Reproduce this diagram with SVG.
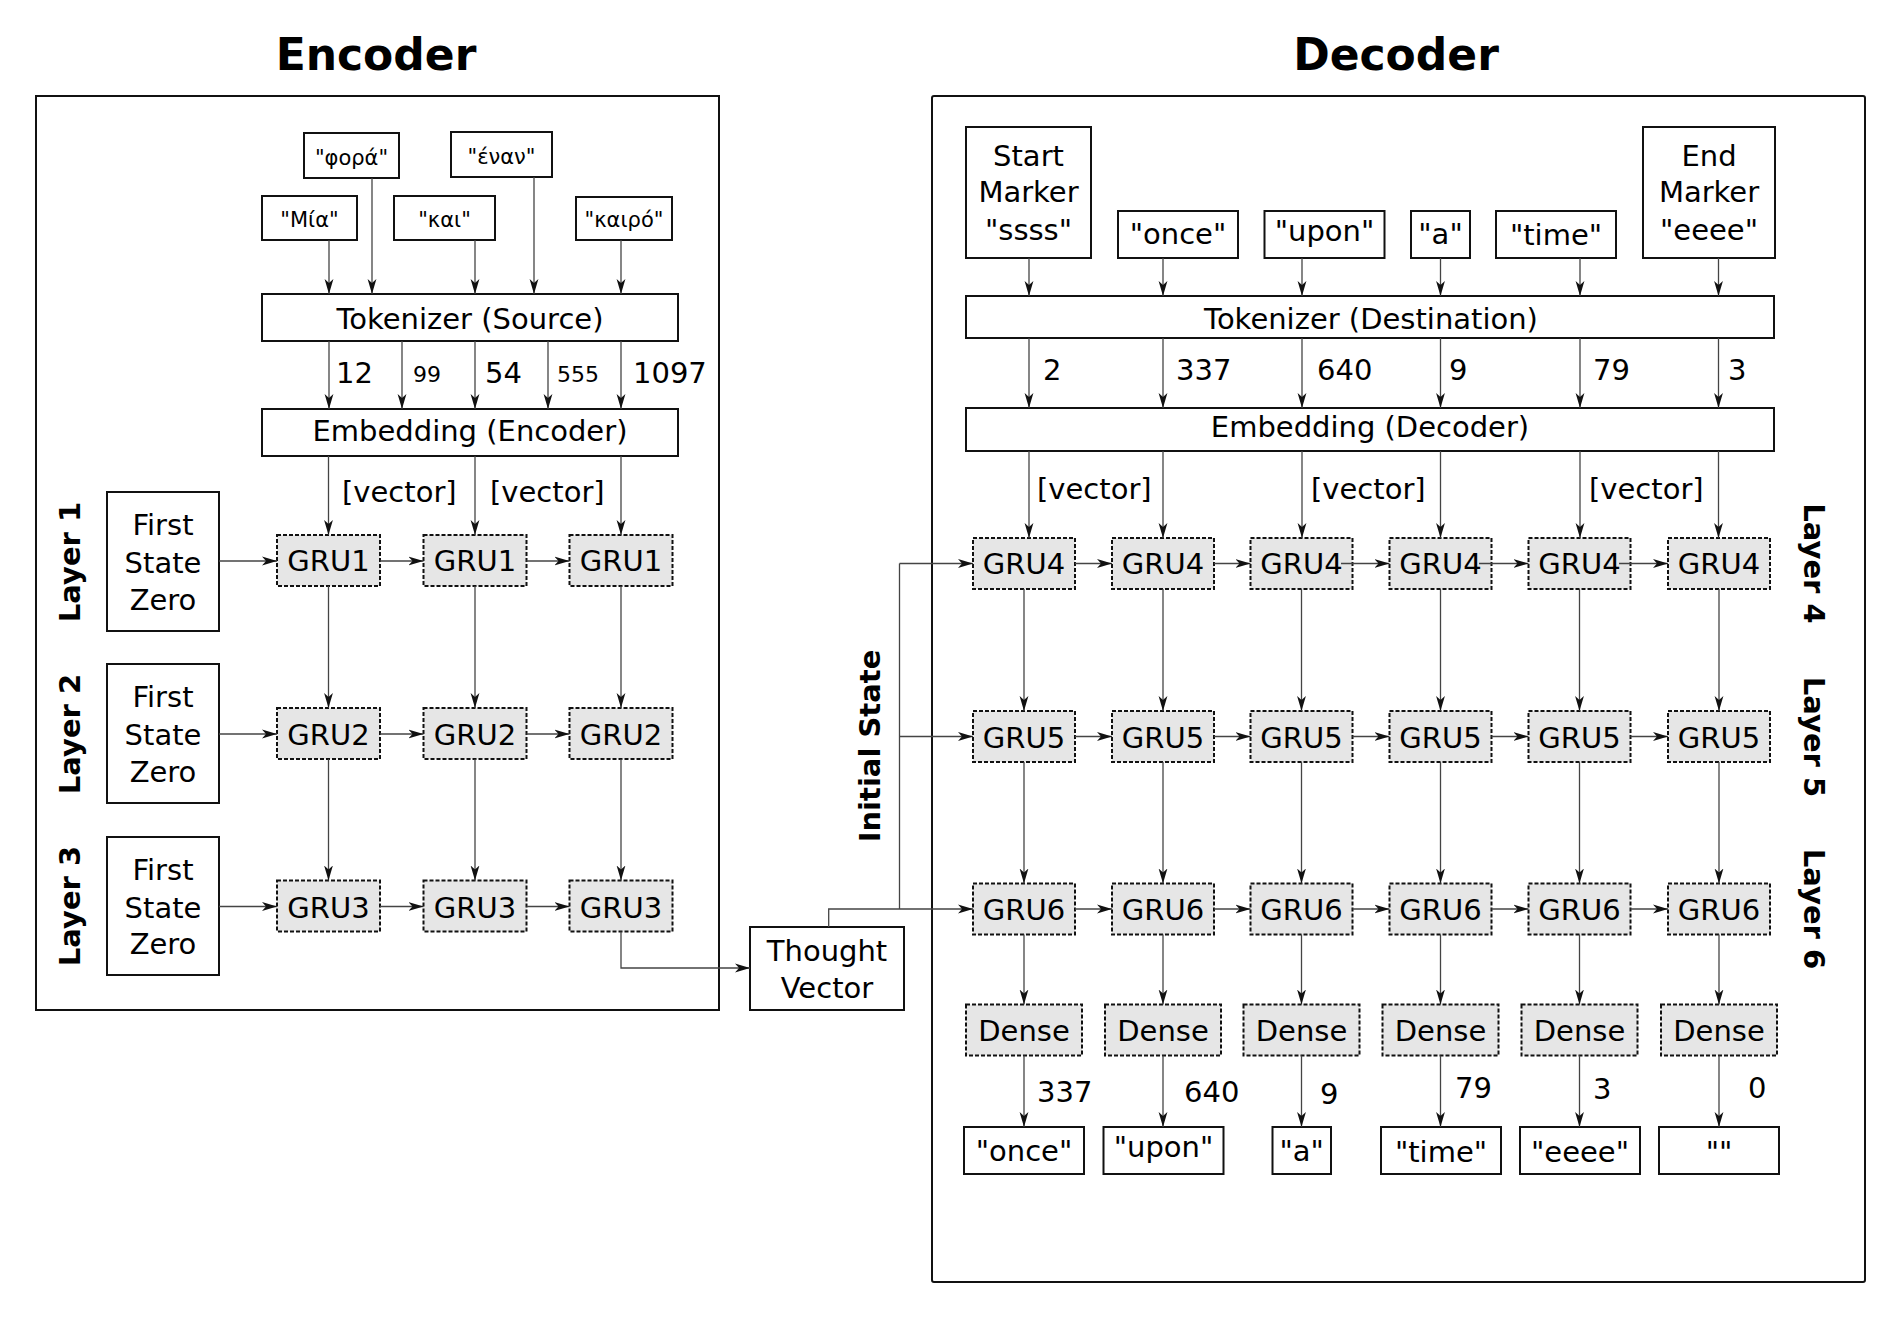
<svg xmlns="http://www.w3.org/2000/svg" width="1902" height="1319" viewBox="0 0 1902 1319">
<style>
text{font-family:"DejaVu Sans","Liberation Sans",sans-serif;fill:#000}
.t{font-size:29px;text-anchor:middle}
.n{font-size:29px}
.sn{font-size:22px}
.g{font-size:21px;text-anchor:middle}
.b{font-size:29px;font-weight:bold;text-anchor:middle}
.title{font-size:44px;font-weight:bold;text-anchor:middle}
.box{fill:#fff;stroke:#111;stroke-width:2}
.cont{fill:none;stroke:#111;stroke-width:2}
.gru{fill:#e6e6e6;stroke:#111;stroke-width:2;stroke-dasharray:4 2}
#connectors path{fill:none;stroke:#444;stroke-width:1.3}
#connectors .a{marker-end:url(#ah)}
</style>
<defs>
<marker id="ah" viewBox="0 0 16 10" refX="15" refY="5" markerWidth="16" markerHeight="10" markerUnits="userSpaceOnUse" orient="auto">
<path d="M15,5 L0,0.6 L4,5 L0,9.4 Z" fill="#111"/>
</marker>
</defs>
<rect width="1902" height="1319" fill="#fff"/>

<g id="titles">
<text class="title" x="376" y="70">Encoder</text>
<text class="title" x="1396" y="70">Decoder</text>
</g>

<g id="containers">
<rect id="encoder" class="cont" x="36" y="96" width="683" height="914"/>
<rect id="decoder" class="cont" x="932" y="96" width="933" height="1186" rx="2"/>
</g>

<g id="labels">
<text class="b" x="80" y="562" transform="rotate(-90 80 562)">Layer 1</text>
<text class="b" x="80" y="734" transform="rotate(-90 80 734)">Layer 2</text>
<text class="b" x="80" y="906" transform="rotate(-90 80 906)">Layer 3</text>
<text class="b" x="880" y="746" transform="rotate(-90 880 746)">Initial State</text>
<text class="b" x="1804" y="563.5" transform="rotate(90 1804 563.5)">Layer 4</text>
<text class="b" x="1804" y="737" transform="rotate(90 1804 737)">Layer 5</text>
<text class="b" x="1804" y="909" transform="rotate(90 1804 909)">Layer 6</text>
</g>

<!-- Encoder nodes -->
<g id="src-fora"><rect class="box" x="304" y="133" width="95" height="45"/><text class="g" x="351.5" y="165">"φορά"</text></g>
<g id="src-enan"><rect class="box" x="451" y="132" width="101" height="45"/><text class="g" x="501.5" y="163.5">"έναν"</text></g>
<g id="src-mia"><rect class="box" x="262" y="196" width="95" height="44"/><text class="g" x="309.5" y="227">"Μία"</text></g>
<g id="src-kai"><rect class="box" x="394" y="196" width="101" height="44"/><text class="g" x="444.5" y="227">"και"</text></g>
<g id="src-kairo"><rect class="box" x="576" y="197" width="96" height="43"/><text class="g" x="624" y="227">"καιρό"</text></g>
<g id="tok-src"><rect class="box" x="262" y="294" width="416" height="47"/><text class="t" x="470" y="329">Tokenizer (Source)</text></g>
<g id="emb-enc"><rect class="box" x="262" y="409" width="416" height="47"/><text class="t" x="470" y="440.5">Embedding (Encoder)</text></g>

<g id="fsz1"><rect class="box" x="107" y="492" width="112" height="139"/><text class="t" x="163" y="535">First</text><text class="t" x="163" y="573">State</text><text class="t" x="163" y="609.5">Zero</text></g>
<g id="fsz2"><rect class="box" x="107" y="664" width="112" height="139"/><text class="t" x="163" y="707">First</text><text class="t" x="163" y="745">State</text><text class="t" x="163" y="781.5">Zero</text></g>
<g id="fsz3"><rect class="box" x="107" y="837" width="112" height="138"/><text class="t" x="163" y="879.5">First</text><text class="t" x="163" y="917.5">State</text><text class="t" x="163" y="954">Zero</text></g>

<g id="gru1-1"><rect class="gru" x="277" y="535" width="103" height="51"/><text class="t" x="328.5" y="571">GRU1</text></g>
<g id="gru1-2"><rect class="gru" x="423.5" y="535" width="103" height="51"/><text class="t" x="475" y="571">GRU1</text></g>
<g id="gru1-3"><rect class="gru" x="569.5" y="535" width="103" height="51"/><text class="t" x="621" y="571">GRU1</text></g>
<g id="gru2-1"><rect class="gru" x="277" y="708" width="103" height="51"/><text class="t" x="328.5" y="744.5">GRU2</text></g>
<g id="gru2-2"><rect class="gru" x="423.5" y="708" width="103" height="51"/><text class="t" x="475" y="744.5">GRU2</text></g>
<g id="gru2-3"><rect class="gru" x="569.5" y="708" width="103" height="51"/><text class="t" x="621" y="744.5">GRU2</text></g>
<g id="gru3-1"><rect class="gru" x="277" y="880.5" width="103" height="51"/><text class="t" x="328.5" y="917.5">GRU3</text></g>
<g id="gru3-2"><rect class="gru" x="423.5" y="880.5" width="103" height="51"/><text class="t" x="475" y="917.5">GRU3</text></g>
<g id="gru3-3"><rect class="gru" x="569.5" y="880.5" width="103" height="51"/><text class="t" x="621" y="917.5">GRU3</text></g>

<g id="thought"><rect class="box" x="750" y="927" width="154" height="83"/><text class="t" x="827" y="960.5">Thought</text><text class="t" x="827" y="998">Vector</text></g>

<!-- Decoder nodes -->
<g id="dst-start"><rect class="box" x="966" y="127" width="125" height="131"/><text class="t" x="1028.5" y="165.5">Start</text><text class="t" x="1028.5" y="202">Marker</text><text class="t" x="1028.5" y="239.5">"ssss"</text></g>
<g id="dst-once"><rect class="box" x="1118" y="211" width="120" height="47"/><text class="t" x="1178" y="243.5">"once"</text></g>
<g id="dst-upon"><rect class="box" x="1264.5" y="211" width="120" height="47"/><text class="t" x="1324.5" y="240.5">"upon"</text></g>
<g id="dst-a"><rect class="box" x="1411" y="211" width="59" height="47"/><text class="t" x="1440.5" y="243.5">"a"</text></g>
<g id="dst-time"><rect class="box" x="1496" y="211" width="120" height="47"/><text class="t" x="1556" y="244.5">"time"</text></g>
<g id="dst-end"><rect class="box" x="1643" y="127" width="132" height="131"/><text class="t" x="1709" y="165.5">End</text><text class="t" x="1709" y="202">Marker</text><text class="t" x="1709" y="239.5">"eeee"</text></g>
<g id="tok-dst"><rect class="box" x="966" y="296" width="808" height="42"/><text class="t" x="1371" y="329">Tokenizer (Destination)</text></g>
<g id="emb-dec"><rect class="box" x="966" y="408" width="808" height="43"/><text class="t" x="1370" y="437">Embedding (Decoder)</text></g>

<g id="gru4-1"><rect class="gru" x="973" y="538" width="102" height="51"/><text class="t" x="1024" y="574">GRU4</text></g>
<g id="gru4-2"><rect class="gru" x="1112" y="538" width="102" height="51"/><text class="t" x="1163" y="574">GRU4</text></g>
<g id="gru4-3"><rect class="gru" x="1250.5" y="538" width="102" height="51"/><text class="t" x="1301.5" y="574">GRU4</text></g>
<g id="gru4-4"><rect class="gru" x="1389.5" y="538" width="102" height="51"/><text class="t" x="1440.5" y="574">GRU4</text></g>
<g id="gru4-5"><rect class="gru" x="1528.5" y="538" width="102" height="51"/><text class="t" x="1579.5" y="574">GRU4</text></g>
<g id="gru4-6"><rect class="gru" x="1668" y="538" width="102" height="51"/><text class="t" x="1719" y="574">GRU4</text></g>

<g id="gru5-1"><rect class="gru" x="973" y="711" width="102" height="51"/><text class="t" x="1024" y="747.5">GRU5</text></g>
<g id="gru5-2"><rect class="gru" x="1112" y="711" width="102" height="51"/><text class="t" x="1163" y="747.5">GRU5</text></g>
<g id="gru5-3"><rect class="gru" x="1250.5" y="711" width="102" height="51"/><text class="t" x="1301.5" y="747.5">GRU5</text></g>
<g id="gru5-4"><rect class="gru" x="1389.5" y="711" width="102" height="51"/><text class="t" x="1440.5" y="747.5">GRU5</text></g>
<g id="gru5-5"><rect class="gru" x="1528.5" y="711" width="102" height="51"/><text class="t" x="1579.5" y="747.5">GRU5</text></g>
<g id="gru5-6"><rect class="gru" x="1668" y="711" width="102" height="51"/><text class="t" x="1719" y="747.5">GRU5</text></g>

<g id="gru6-1"><rect class="gru" x="973" y="883.5" width="102" height="51"/><text class="t" x="1024" y="920">GRU6</text></g>
<g id="gru6-2"><rect class="gru" x="1112" y="883.5" width="102" height="51"/><text class="t" x="1163" y="920">GRU6</text></g>
<g id="gru6-3"><rect class="gru" x="1250.5" y="883.5" width="102" height="51"/><text class="t" x="1301.5" y="920">GRU6</text></g>
<g id="gru6-4"><rect class="gru" x="1389.5" y="883.5" width="102" height="51"/><text class="t" x="1440.5" y="920">GRU6</text></g>
<g id="gru6-5"><rect class="gru" x="1528.5" y="883.5" width="102" height="51"/><text class="t" x="1579.5" y="920">GRU6</text></g>
<g id="gru6-6"><rect class="gru" x="1668" y="883.5" width="102" height="51"/><text class="t" x="1719" y="920">GRU6</text></g>

<g id="dense-1"><rect class="gru" x="966" y="1004.5" width="116" height="51"/><text class="t" x="1024" y="1041">Dense</text></g>
<g id="dense-2"><rect class="gru" x="1105" y="1004.5" width="116" height="51"/><text class="t" x="1163" y="1041">Dense</text></g>
<g id="dense-3"><rect class="gru" x="1243.5" y="1004.5" width="116" height="51"/><text class="t" x="1301.5" y="1041">Dense</text></g>
<g id="dense-4"><rect class="gru" x="1382.5" y="1004.5" width="116" height="51"/><text class="t" x="1440.5" y="1041">Dense</text></g>
<g id="dense-5"><rect class="gru" x="1521.5" y="1004.5" width="116" height="51"/><text class="t" x="1579.5" y="1041">Dense</text></g>
<g id="dense-6"><rect class="gru" x="1661" y="1004.5" width="116" height="51"/><text class="t" x="1719" y="1041">Dense</text></g>

<g id="out-once"><rect class="box" x="964" y="1127" width="120" height="47"/><text class="t" x="1024" y="1160.5">"once"</text></g>
<g id="out-upon"><rect class="box" x="1103.5" y="1127" width="120" height="47"/><text class="t" x="1163.5" y="1156.5">"upon"</text></g>
<g id="out-a"><rect class="box" x="1272.5" y="1127" width="58.5" height="47"/><text class="t" x="1301.7" y="1160.5">"a"</text></g>
<g id="out-time"><rect class="box" x="1381" y="1127" width="120" height="47"/><text class="t" x="1441" y="1161.5">"time"</text></g>
<g id="out-eeee"><rect class="box" x="1520" y="1127" width="120" height="47"/><text class="t" x="1580" y="1161.5">"eeee"</text></g>
<g id="out-empty"><rect class="box" x="1659" y="1127" width="120" height="47"/><text class="t" x="1719" y="1161.5">""</text></g>

<g id="connectors">
<path class="a" d="M329,240V294"/>
<path class="a" d="M372,178V294"/>
<path class="a" d="M475,240V294"/>
<path class="a" d="M534,177V294"/>
<path class="a" d="M621,240V294"/>
<path class="a" d="M329,341V409"/>
<path class="a" d="M402,341V409"/>
<path class="a" d="M475,341V409"/>
<path class="a" d="M548,341V409"/>
<path class="a" d="M621,341V409"/>
<path class="a" d="M328.5,456V535"/>
<path class="a" d="M475,456V535"/>
<path class="a" d="M621,456V535"/>
<path class="a" d="M219,561H277"/>
<path class="a" d="M219,734H277"/>
<path class="a" d="M219,906.5H277"/>
<path class="a" d="M380,561H423.5"/>
<path class="a" d="M526.5,561H569.5"/>
<path class="a" d="M380,734H423.5"/>
<path class="a" d="M526.5,734H569.5"/>
<path class="a" d="M380,906.5H423.5"/>
<path class="a" d="M526.5,906.5H569.5"/>
<path class="a" d="M328.5,586V708"/>
<path class="a" d="M475,586V708"/>
<path class="a" d="M621,586V708"/>
<path class="a" d="M328.5,759V880.5"/>
<path class="a" d="M475,759V880.5"/>
<path class="a" d="M621,759V880.5"/>
<path class="a" d="M621,931.5V968H750"/>
<path class="a" d="M828.7,927V909H973"/>
<path d="M899.5,909V563.5"/>
<path class="a" d="M899.5,563.5H973"/>
<path class="a" d="M899.5,736.5H973"/>
<path class="a" d="M1029,258V296"/>
<path class="a" d="M1163,258V296"/>
<path class="a" d="M1302,258V296"/>
<path class="a" d="M1440.5,258V296"/>
<path class="a" d="M1580,258V296"/>
<path class="a" d="M1718.5,258V296"/>
<path class="a" d="M1029,338V408"/>
<path class="a" d="M1163,338V408"/>
<path class="a" d="M1302,338V408"/>
<path class="a" d="M1440.5,338V408"/>
<path class="a" d="M1580,338V408"/>
<path class="a" d="M1718.5,338V408"/>
<path class="a" d="M1029,451V538"/>
<path class="a" d="M1163,451V538"/>
<path class="a" d="M1302,451V538"/>
<path class="a" d="M1440.5,451V538"/>
<path class="a" d="M1580,451V538"/>
<path class="a" d="M1718.5,451V538"/>
<path class="a" d="M1075,563.5H1112"/>
<path class="a" d="M1214,563.5H1250.5"/>
<path class="a" d="M1341,563.5H1389.5"/>
<path class="a" d="M1479,563.5H1528.5"/>
<path class="a" d="M1619,563.5H1668"/>
<path class="a" d="M1075,736.5H1112"/>
<path class="a" d="M1214,736.5H1250.5"/>
<path class="a" d="M1352.5,736.5H1389.5"/>
<path class="a" d="M1491.5,736.5H1528.5"/>
<path class="a" d="M1630.5,736.5H1668"/>
<path class="a" d="M1075,909H1112"/>
<path class="a" d="M1214,909H1250.5"/>
<path class="a" d="M1352.5,909H1389.5"/>
<path class="a" d="M1491.5,909H1528.5"/>
<path class="a" d="M1630.5,909H1668"/>
<path class="a" d="M1024,589V711"/>
<path class="a" d="M1163,589V711"/>
<path class="a" d="M1301.5,589V711"/>
<path class="a" d="M1440.5,589V711"/>
<path class="a" d="M1579.5,589V711"/>
<path class="a" d="M1719,589V711"/>
<path class="a" d="M1024,762V883.5"/>
<path class="a" d="M1163,762V883.5"/>
<path class="a" d="M1301.5,762V883.5"/>
<path class="a" d="M1440.5,762V883.5"/>
<path class="a" d="M1579.5,762V883.5"/>
<path class="a" d="M1719,762V883.5"/>
<path class="a" d="M1024,934.5V1004.5"/>
<path class="a" d="M1163,934.5V1004.5"/>
<path class="a" d="M1301.5,934.5V1004.5"/>
<path class="a" d="M1440.5,934.5V1004.5"/>
<path class="a" d="M1579.5,934.5V1004.5"/>
<path class="a" d="M1719,934.5V1004.5"/>
<path class="a" d="M1024,1055.5V1127"/>
<path class="a" d="M1163,1055.5V1127"/>
<path class="a" d="M1301.5,1055.5V1127"/>
<path class="a" d="M1440.5,1055.5V1127"/>
<path class="a" d="M1579.5,1055.5V1127"/>
<path class="a" d="M1719,1055.5V1127"/>
</g>

<g id="edge-labels">
<text class="n" x="336" y="383">12</text>
<text class="sn" x="413" y="382">99</text>
<text class="n" x="485" y="383">54</text>
<text class="sn" x="557" y="382">555</text>
<text class="n" x="633" y="383">1097</text>
<text class="n" x="342" y="502">[vector]</text>
<text class="n" x="490" y="502">[vector]</text>
<text class="n" x="1043" y="379.5">2</text>
<text class="n" x="1176" y="379.5">337</text>
<text class="n" x="1317" y="379.5">640</text>
<text class="n" x="1449" y="379.5">9</text>
<text class="n" x="1593" y="379.5">79</text>
<text class="n" x="1728" y="379.5">3</text>
<text class="n" x="1037" y="499">[vector]</text>
<text class="n" x="1311" y="499">[vector]</text>
<text class="n" x="1589" y="499">[vector]</text>
<text class="n" x="1037" y="1102">337</text>
<text class="n" x="1184" y="1102">640</text>
<text class="n" x="1320" y="1104">9</text>
<text class="n" x="1455" y="1098">79</text>
<text class="n" x="1593" y="1099">3</text>
<text class="n" x="1748" y="1098">0</text>
</g>
</svg>
